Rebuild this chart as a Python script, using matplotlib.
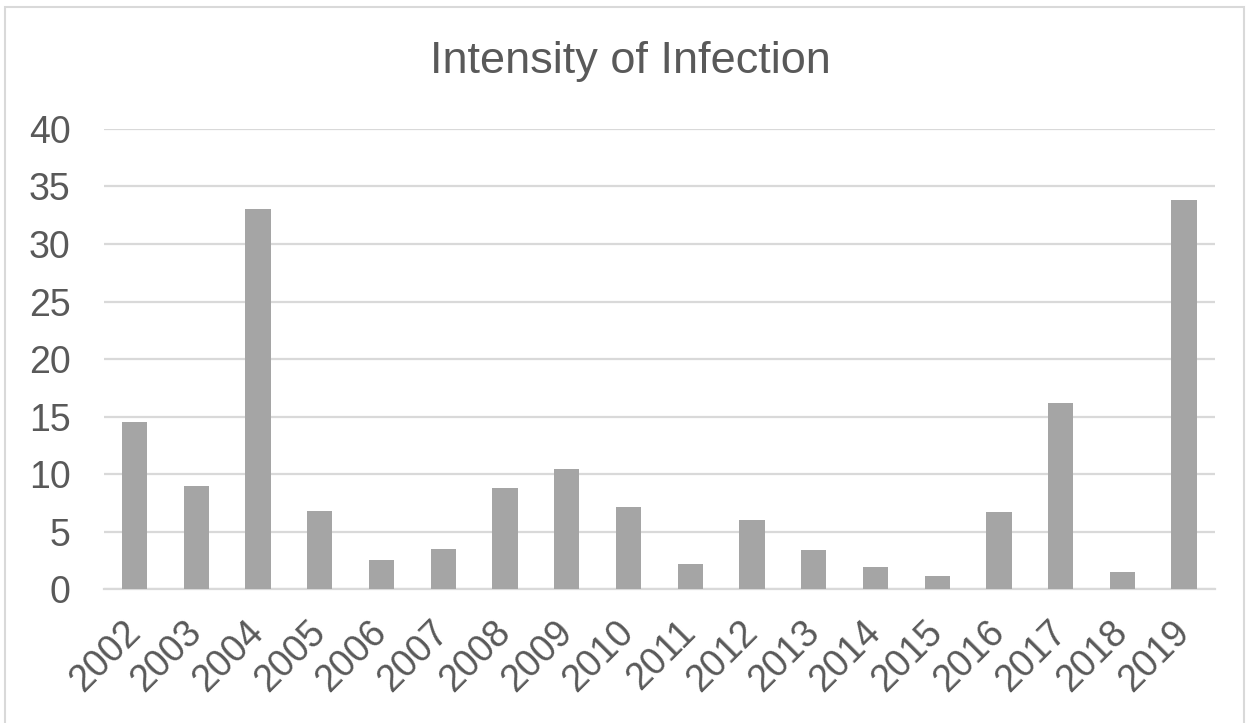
import matplotlib
matplotlib.use("Agg")
import matplotlib.pyplot as plt
from matplotlib.patches import Rectangle

years = [str(y) for y in range(2002, 2020)]
intensity = [14.5, 9.0, 33.0, 6.8, 2.5, 3.5, 8.75, 10.4, 7.1, 2.2,
             6.0, 3.4, 1.95, 1.1, 6.7, 16.2, 1.45, 33.8]
yticks = [0, 5, 10, 15, 20, 25, 30, 35, 40]

plt.rcParams['font.family'] = ['Liberation Sans', 'DejaVu Sans']
text_grey = '#595959'

fig = plt.figure(figsize=(12.5, 7.23), dpi=100, facecolor='white')
# light frame round the chart area
fig.patches.append(Rectangle((5 / 1250, -0.05), 1239 / 1250, 1.05 - 7 / 723,
                             transform=fig.transFigure, fill=False,
                             edgecolor='#d9d9d9', linewidth=1.5))

ax = fig.add_axes([0.083, 0.1853, 0.889, 0.6363])
x = range(len(years))
ax.bar(x, intensity, width=0.41, color='#a5a5a5', zorder=3)

ax.set_ylim(0, 40)
ax.set_xlim(-0.5, len(years) - 0.5)
ax.set_yticks(yticks)
ax.set_xticks(list(x))
ax.set_xticklabels(years, rotation=45, ha='right', va='center',
                   rotation_mode='anchor')
ax.tick_params(axis='both', length=0, colors=text_grey, labelsize=27)
ax.tick_params(axis='y', pad=24)
ax.tick_params(axis='x', pad=27)

ax.grid(axis='y', color='#d9d9d9', linewidth=1.6, zorder=0)
for side in ['top', 'right', 'left']:
    ax.spines[side].set_visible(False)
ax.spines['bottom'].set_color('#d9d9d9')
ax.spines['bottom'].set_linewidth(1.6)

fig.text(0.504, 0.915, 'Intensity of Infection', ha='center', va='center',
         fontsize=32.5, color=text_grey)

fig.savefig('out.png', dpi=100, facecolor='white')
